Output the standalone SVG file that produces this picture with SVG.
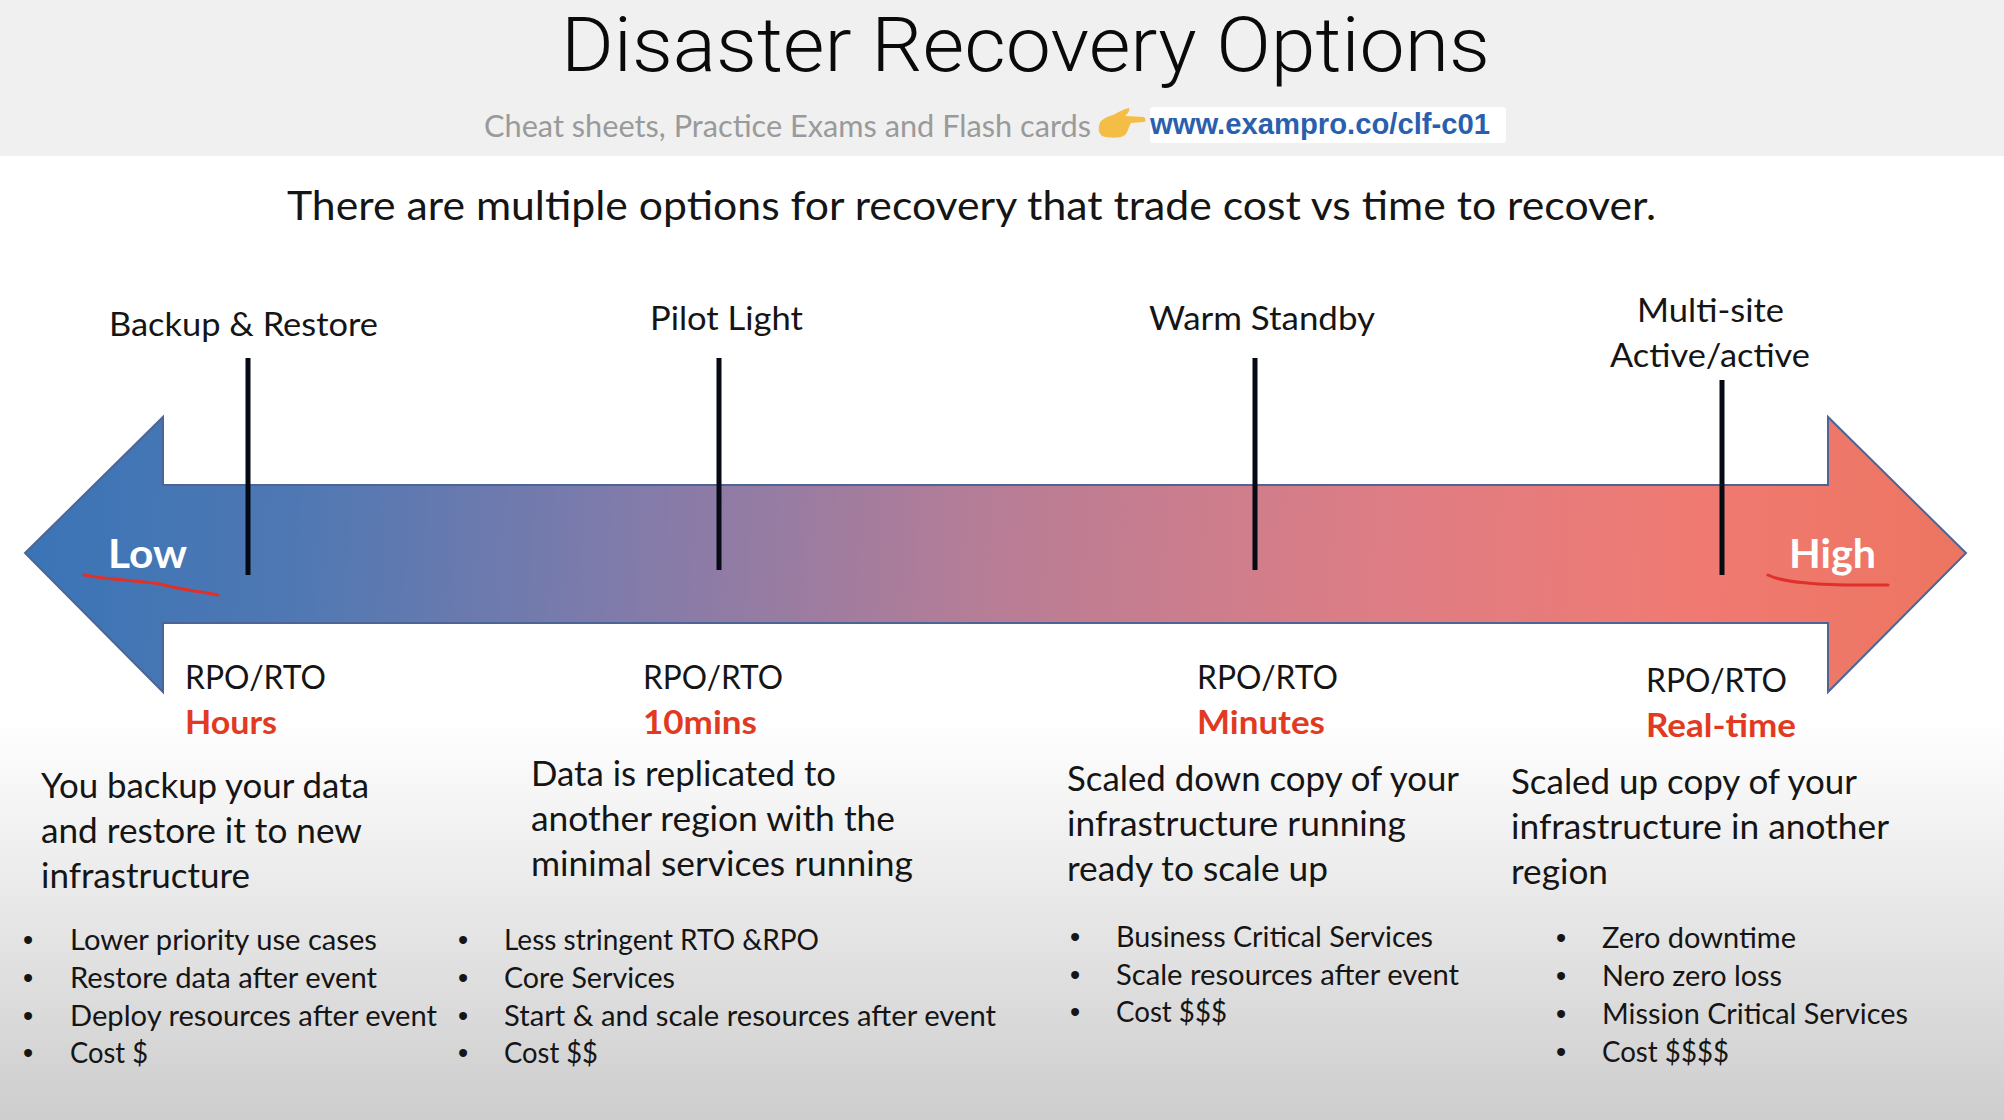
<svg xmlns="http://www.w3.org/2000/svg" width="2004" height="1120" viewBox="0 0 2004 1120">
<style>
text{font-family:"Lato","Open Sans","Liberation Sans",sans-serif;fill:#151515;}
.title{font-family:"Roboto","Liberation Sans",sans-serif;font-weight:300;font-size:76px;fill:#0a0a0a;}
.sub{font-size:30px;fill:#9a9a9a;}
.link{font-family:"Liberation Sans",Arial,sans-serif;font-size:29px;font-weight:700;fill:#2a5fae;}
.lead{font-size:41px;}
.head{font-size:33px;}
.rpo{font-size:33px;}
.val{font-size:33px;font-weight:700;fill:#e23a22;}
.end{font-size:41px;font-weight:700;fill:#fff;}
.desc{font-size:35px;}
.li{font-size:29px;}
.dot{font-size:29px;font-family:"Liberation Sans",sans-serif;}
.tick{stroke:#060a14;stroke-width:5;fill:none;}
.ink{stroke:#e0302a;stroke-width:3;fill:none;stroke-linecap:round;}
</style>
<defs>
<linearGradient id="bg" x1="0" y1="0" x2="0" y2="1"><stop offset="0" stop-color="#fff"/><stop offset="1" stop-color="#cdcdcd"/></linearGradient>
<linearGradient id="band" gradientUnits="userSpaceOnUse" x1="25" y1="500" x2="1966" y2="606">
<stop offset="0" stop-color="#3a74b6"/><stop offset="0.14" stop-color="#4f78b3"/><stop offset="0.3" stop-color="#7e7bab"/><stop offset="0.5" stop-color="#b87d96"/><stop offset="0.7" stop-color="#de7d85"/><stop offset="0.86" stop-color="#f07a72"/><stop offset="1" stop-color="#ec7560"/>
</linearGradient>
</defs>
<rect id="page" width="2004" height="1120" fill="#fff"/>
<rect id="fade" y="720" width="2004" height="400" fill="url(#bg)"/>
<g id="header">
<rect width="2004" height="156" fill="#f0f0f0"/>
<text class="title" x="561" y="71" textLength="929" lengthAdjust="spacingAndGlyphs">Disaster Recovery Options</text>
<text class="sub" x="484" y="137" textLength="607" lengthAdjust="spacingAndGlyphs">Cheat sheets, Practice Exams and Flash cards</text>
<path id="hand" d="M1099 126C1100 119 1107 117 1113 115C1119 112 1124 109 1129 108C1130 111 1128 113 1125 116L1144 117C1146 119 1146 122 1144 122L1131 123C1129 126 1128 132 1125 135C1120 139 1108 138 1102 136C1099 133 1098 130 1099 126Z" fill="#f4bd45"/>
<rect x="1150" y="107" width="356" height="36" fill="#fff" rx="3"/>
<text class="link" x="1150" y="134" textLength="340" lengthAdjust="spacingAndGlyphs">www.exampro.co/clf-c01</text>
</g>
<text id="lead" class="lead" x="287" y="220" textLength="1369" lengthAdjust="spacingAndGlyphs">There are multiple options for recovery that trade cost vs time to recover.</text>
<g id="arrow">
<path d="M25 553L163 417V485H1828V417L1966 553L1828 692V623H163V692Z" fill="url(#band)" stroke="#4d6596" stroke-width="2" stroke-linejoin="miter"/>
<text class="end" x="108" y="568" textLength="79" lengthAdjust="spacingAndGlyphs">Low</text>
<text class="end" x="1789" y="568" textLength="87" lengthAdjust="spacingAndGlyphs">High</text>
<path class="ink" d="M84 575C110 580 135 580 160 584C180 590 200 591 218 595"/>
<path class="ink" d="M1768 575C1780 581 1795 582 1807 583C1835 586 1860 585 1888 585"/>
</g>
<g id="connectors">
<path class="tick" d="M248 358V575"/>
<path class="tick" d="M719 358V570"/>
<path class="tick" d="M1255 358V570"/>
<path class="tick" d="M1722 380V575"/>
</g>
<g id="backup-restore">
<text class="head" x="109" y="336" textLength="269" lengthAdjust="spacingAndGlyphs">Backup &amp; Restore</text>
<text class="rpo" x="185" y="689" textLength="141" lengthAdjust="spacingAndGlyphs">RPO/RTO</text>
<text class="val" x="185" y="734" textLength="92" lengthAdjust="spacingAndGlyphs">Hours</text>
<text class="desc" x="41" y="798" textLength="328" lengthAdjust="spacingAndGlyphs">You backup your data</text>
<text class="desc" x="41" y="843" textLength="321" lengthAdjust="spacingAndGlyphs">and restore it to new</text>
<text class="desc" x="41" y="888" textLength="209" lengthAdjust="spacingAndGlyphs">infrastructure</text>
<text class="dot" x="23" y="950">•</text><text class="li" x="70" y="950" textLength="307" lengthAdjust="spacingAndGlyphs">Lower priority use cases</text>
<text class="dot" x="23" y="988">•</text><text class="li" x="70" y="988" textLength="307" lengthAdjust="spacingAndGlyphs">Restore data after event</text>
<text class="dot" x="23" y="1026">•</text><text class="li" x="70" y="1026" textLength="367" lengthAdjust="spacingAndGlyphs">Deploy resources after event</text>
<text class="dot" x="23" y="1063">•</text><text class="li" x="70" y="1063" textLength="78" lengthAdjust="spacingAndGlyphs">Cost $</text>
</g>
<g id="pilot-light">
<text class="head" x="650" y="330" textLength="153" lengthAdjust="spacingAndGlyphs">Pilot Light</text>
<text class="rpo" x="643" y="689" textLength="140" lengthAdjust="spacingAndGlyphs">RPO/RTO</text>
<text class="val" x="643" y="734" textLength="114" lengthAdjust="spacingAndGlyphs">10mins</text>
<text class="desc" x="531" y="786" textLength="305" lengthAdjust="spacingAndGlyphs">Data is replicated to</text>
<text class="desc" x="531" y="831" textLength="364" lengthAdjust="spacingAndGlyphs">another region with the</text>
<text class="desc" x="531" y="876" textLength="382" lengthAdjust="spacingAndGlyphs">minimal services running</text>
<text class="dot" x="458" y="950">•</text><text class="li" x="504" y="950" textLength="315" lengthAdjust="spacingAndGlyphs">Less stringent RTO &amp;RPO</text>
<text class="dot" x="458" y="988">•</text><text class="li" x="504" y="988" textLength="171" lengthAdjust="spacingAndGlyphs">Core Services</text>
<text class="dot" x="458" y="1026">•</text><text class="li" x="504" y="1026" textLength="492" lengthAdjust="spacingAndGlyphs">Start &amp; and scale resources after event</text>
<text class="dot" x="458" y="1063">•</text><text class="li" x="504" y="1063" textLength="94" lengthAdjust="spacingAndGlyphs">Cost $$</text>
</g>
<g id="warm-standby">
<text class="head" x="1149" y="330" textLength="226" lengthAdjust="spacingAndGlyphs">Warm Standby</text>
<text class="rpo" x="1197" y="689" textLength="141" lengthAdjust="spacingAndGlyphs">RPO/RTO</text>
<text class="val" x="1197" y="734" textLength="128" lengthAdjust="spacingAndGlyphs">Minutes</text>
<text class="desc" x="1067" y="791" textLength="392" lengthAdjust="spacingAndGlyphs">Scaled down copy of your</text>
<text class="desc" x="1067" y="836" textLength="339" lengthAdjust="spacingAndGlyphs">infrastructure running</text>
<text class="desc" x="1067" y="881" textLength="261" lengthAdjust="spacingAndGlyphs">ready to scale up</text>
<text class="dot" x="1070" y="947">•</text><text class="li" x="1116" y="947" textLength="317" lengthAdjust="spacingAndGlyphs">Business Critical Services</text>
<text class="dot" x="1070" y="985">•</text><text class="li" x="1116" y="985" textLength="343" lengthAdjust="spacingAndGlyphs">Scale resources after event</text>
<text class="dot" x="1070" y="1022">•</text><text class="li" x="1116" y="1022" textLength="111" lengthAdjust="spacingAndGlyphs">Cost $$$</text>
</g>
<g id="multi-site">
<text class="head" x="1637" y="322" textLength="147" lengthAdjust="spacingAndGlyphs">Multi-site</text>
<text class="head" x="1610" y="367" textLength="200" lengthAdjust="spacingAndGlyphs">Active/active</text>
<text class="rpo" x="1646" y="692" textLength="141" lengthAdjust="spacingAndGlyphs">RPO/RTO</text>
<text class="val" x="1646" y="737" textLength="150" lengthAdjust="spacingAndGlyphs">Real-time</text>
<text class="desc" x="1511" y="794" textLength="346" lengthAdjust="spacingAndGlyphs">Scaled up copy of your</text>
<text class="desc" x="1511" y="839" textLength="378" lengthAdjust="spacingAndGlyphs">infrastructure in another</text>
<text class="desc" x="1511" y="884" textLength="97" lengthAdjust="spacingAndGlyphs">region</text>
<text class="dot" x="1556" y="948">•</text><text class="li" x="1602" y="948" textLength="194" lengthAdjust="spacingAndGlyphs">Zero downtime</text>
<text class="dot" x="1556" y="986">•</text><text class="li" x="1602" y="986" textLength="180" lengthAdjust="spacingAndGlyphs">Nero zero loss</text>
<text class="dot" x="1556" y="1024">•</text><text class="li" x="1602" y="1024" textLength="306" lengthAdjust="spacingAndGlyphs">Mission Critical Services</text>
<text class="dot" x="1556" y="1062">•</text><text class="li" x="1602" y="1062" textLength="127" lengthAdjust="spacingAndGlyphs">Cost $$$$</text>
</g>
</svg>
